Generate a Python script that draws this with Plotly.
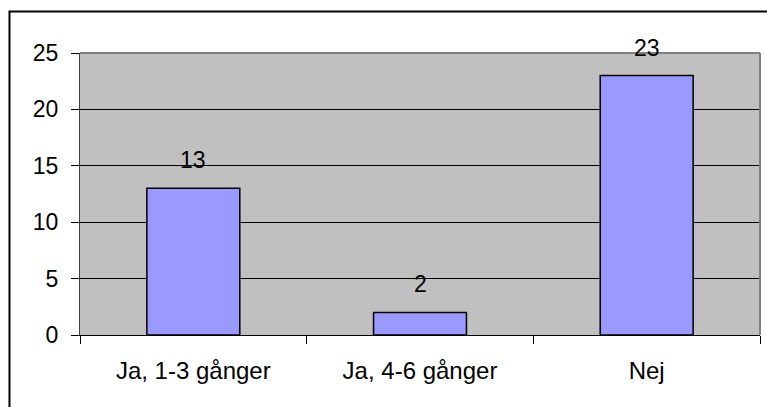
import plotly.graph_objects as go

categories = ["Ja, 1-3 gånger", "Ja, 4-6 gånger", "Nej"]
values = [13, 2, 23]
y_ticks = [0, 5, 10, 15, 20, 25]

FONT = "Arial, Liberation Sans, sans-serif"

fig = go.Figure()
fig.add_trace(go.Bar(
    x=categories, y=values,
    marker=dict(color="#9999FF", line=dict(color="black", width=1.5)),
    hoverinfo="skip",
))

for c, v in zip(categories, values):
    fig.add_annotation(x=c, y=v, text=str(v), showarrow=False,
                       yanchor="bottom", yshift=13,
                       font=dict(family=FONT, size=23, color="black"))

# outer chart frame (extends beyond right/bottom edge like the reference)
fig.add_shape(type="rect", xref="paper", yref="paper",
              x0=-0.1037, x1=1.05, y0=-0.35, y1=1.1472,
              line=dict(color="black", width=2), layer="above")
# plot-area grey border on top and right
fig.add_shape(type="line", xref="paper", yref="paper", x0=0, x1=1, y0=1, y1=1,
              line=dict(color="#808080", width=2), layer="above")
fig.add_shape(type="line", xref="paper", yref="paper", x0=1, x1=1, y0=0, y1=1,
              line=dict(color="#808080", width=2), layer="above")

fig.update_layout(
    width=767, height=407,
    margin=dict(l=80, r=7, t=53, b=72),
    paper_bgcolor="white", plot_bgcolor="#C0C0C0",
    bargap=0.59, showlegend=False,
    font=dict(family=FONT, size=23, color="black"),
    xaxis=dict(type="category", tickson="boundaries", ticks="outside", ticklen=8,
               tickcolor="black", showgrid=False, showline=True, linecolor="black",
               linewidth=1, tickfont=dict(size=24), ticklabelstandoff=14),
    yaxis=dict(range=[0, 25], tickvals=y_ticks, ticks="outside", ticklen=8,
               tickcolor="black", showgrid=True, gridcolor="black", gridwidth=1,
               zeroline=False, showline=True, linecolor="#404040", linewidth=1,
               tickfont=dict(size=23), ticklabelstandoff=8),
)

fig.write_html("out.html", config={"displayModeBar": False},
               post_script="document.body.style.margin='0';document.body.style.overflow='hidden';")
